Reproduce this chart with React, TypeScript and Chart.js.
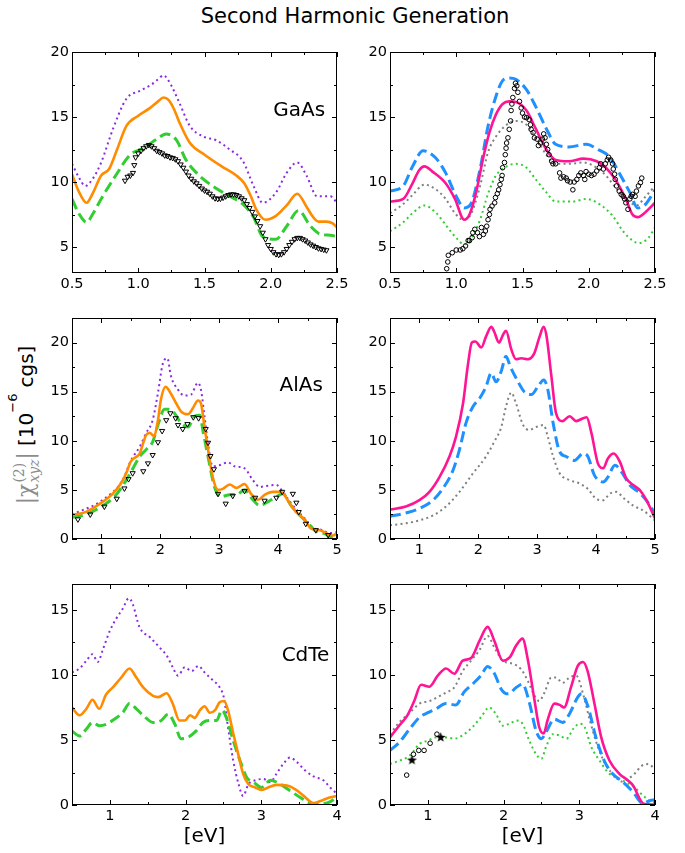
import React, { useEffect, useRef } from "react";
import { Chart, registerables } from "chart.js";
Chart.register(...registerables);

type Pt = [number, number];

// ---------- GaAs (top row) ----------
const gaasXMajor = [0.5, 1.0, 1.5, 2.0, 2.5];
const gaasXMinor = [0.75, 1.25, 1.75, 2.25];
const gaasYMajor = [5, 10, 15, 20];
const gaasYMinor = [7.5, 12.5, 17.5];

const gaasOrange: Pt[] = [[0.5,10.6],[0.55,9.3],[0.61,8.4],[0.66,9.2],[0.72,10.5],[0.78,11.0],[0.84,12.5],[0.91,14.3],[1.0,15.1],[1.09,15.7],[1.15,16.2],[1.19,16.5],[1.23,16.3],[1.27,15.6],[1.31,14.6],[1.39,13.0],[1.5,12.1],[1.63,11.2],[1.74,10.5],[1.8,9.9],[1.85,8.9],[1.89,7.9],[1.96,7.1],[2.04,7.4],[2.12,8.2],[2.2,9.1],[2.27,8.1],[2.32,7.3],[2.36,6.95],[2.42,6.95],[2.47,6.8],[2.5,6.5]];
const gaasPurple: Pt[] = [[0.5,11.4],[0.55,10.4],[0.6,9.7],[0.66,10.3],[0.72,11.5],[0.81,14.1],[0.91,16.4],[1.01,17.0],[1.1,17.5],[1.15,17.9],[1.19,18.2],[1.24,17.6],[1.31,16.1],[1.39,14.3],[1.49,13.5],[1.59,13.2],[1.69,12.5],[1.79,11.6],[1.87,9.7],[1.94,8.4],[2.04,9.2],[2.12,10.7],[2.2,11.5],[2.27,10.5],[2.35,8.9],[2.45,8.9],[2.5,8.4]];
const gaasGreen: Pt[] = [[0.5,8.7],[0.55,7.6],[0.61,6.9],[0.66,7.6],[0.72,8.7],[0.83,10.5],[0.94,12.1],[1.04,12.6],[1.14,13.3],[1.21,13.7],[1.29,13.2],[1.36,11.7],[1.46,10.5],[1.56,9.7],[1.69,8.9],[1.79,8.3],[1.87,7.3],[1.94,5.8],[2.04,5.6],[2.12,6.6],[2.21,7.8],[2.3,6.6],[2.37,6.0],[2.45,5.9],[2.5,5.8]];
const gaasExpTri: Pt[] = [[0.9,10.1],[0.92,10.4],[0.94,10.5],[0.96,10.7],[0.97,11.3],[0.98,11.9],[1.0,12.2],[1.02,12.4],[1.04,12.6],[1.06,12.75],[1.08,12.85],[1.1,12.75],[1.12,12.6],[1.14,12.4],[1.16,12.3],[1.18,12.2],[1.2,12.05],[1.22,12.0],[1.24,11.9],[1.26,11.85],[1.28,11.75],[1.3,11.6],[1.32,11.35],[1.34,11.1],[1.36,10.8],[1.38,10.5],[1.4,10.25],[1.42,10.05],[1.44,9.9],[1.46,9.7],[1.48,9.5],[1.5,9.35],[1.52,9.25],[1.54,9.1],[1.56,8.9],[1.58,8.75],[1.6,8.7],[1.62,8.72],[1.64,8.8],[1.66,8.9],[1.68,9.0],[1.7,9.05],[1.72,9.05],[1.74,9.0],[1.76,8.9],[1.78,8.75],[1.8,8.6],[1.82,8.3],[1.84,8.0],[1.86,7.7],[1.88,7.35],[1.9,7.0],[1.92,6.6],[1.94,6.1],[1.96,5.6],[1.98,5.15],[2.0,4.85],[2.02,4.6],[2.04,4.45],[2.06,4.4],[2.08,4.45],[2.1,4.6],[2.12,4.85],[2.14,5.15],[2.16,5.4],[2.18,5.6],[2.2,5.7],[2.22,5.7],[2.24,5.6],[2.26,5.5],[2.28,5.35],[2.3,5.2],[2.32,5.1],[2.34,5.0],[2.36,4.9],[2.38,4.85],[2.4,4.8],[2.42,4.75]];

const gaasPink: Pt[] = [[0.5,8.5],[0.6,8.7],[0.67,9.9],[0.72,10.9],[0.76,11.2],[0.82,10.8],[0.92,9.9],[0.99,8.7],[1.06,7.1],[1.1,7.5],[1.15,9.2],[1.2,11.7],[1.25,13.8],[1.3,15.2],[1.35,16.0],[1.4,16.2],[1.45,16.15],[1.53,15.5],[1.6,14.1],[1.68,12.5],[1.75,11.7],[1.85,11.6],[1.96,11.8],[2.06,11.6],[2.13,11.1],[2.2,10.2],[2.28,8.7],[2.33,7.5],[2.37,7.3],[2.43,7.7],[2.5,8.4]];
const gaasBlue: Pt[] = [[0.5,9.3],[0.6,9.7],[0.67,11.2],[0.75,12.4],[0.84,11.9],[0.92,10.7],[1.0,8.9],[1.06,8.0],[1.11,8.3],[1.18,11.0],[1.24,14.3],[1.3,16.6],[1.35,17.8],[1.4,18.0],[1.45,17.9],[1.53,17.1],[1.6,15.8],[1.68,14.1],[1.75,12.9],[1.85,12.7],[1.98,12.9],[2.07,12.5],[2.16,11.9],[2.23,10.7],[2.31,9.2],[2.37,8.0],[2.43,8.3],[2.5,9.4]];
const gaasGray: Pt[] = [[0.5,7.6],[0.6,8.3],[0.67,9.0],[0.76,9.8],[0.85,9.4],[0.92,8.7],[0.99,7.6],[1.05,7.1],[1.11,7.5],[1.18,9.7],[1.24,12.3],[1.3,13.5],[1.38,14.4],[1.45,14.7],[1.53,14.4],[1.6,13.4],[1.68,12.1],[1.75,11.4],[1.85,11.4],[1.96,11.5],[2.06,11.1],[2.13,10.5],[2.2,9.6],[2.28,8.7],[2.36,8.2],[2.43,8.9],[2.5,9.7]];
const gaasGreenDot: Pt[] = [[0.5,6.2],[0.6,6.9],[0.67,7.6],[0.76,8.2],[0.85,7.6],[0.92,6.7],[1.0,5.7],[1.06,5.2],[1.11,5.6],[1.18,7.1],[1.24,9.1],[1.3,10.5],[1.38,11.2],[1.45,11.4],[1.53,11.1],[1.6,10.2],[1.68,9.2],[1.75,8.5],[1.88,8.5],[1.98,8.7],[2.08,8.3],[2.18,7.4],[2.26,6.2],[2.33,5.5],[2.38,5.3],[2.45,5.7],[2.5,6.5]];
const gaasExpCirc: Pt[] = [[0.928,3.33],[0.936,3.85],[0.94,4.36],[0.97,4.56],[1.0,4.77],[1.03,4.77],[1.05,4.87],[1.07,5.08],[1.09,5.5],[1.1,5.49],[1.12,5.72],[1.125,6.1],[1.14,6.36],[1.16,6.1],[1.175,5.8],[1.19,6.5],[1.205,5.97],[1.22,6.23],[1.23,6.6],[1.24,7.1],[1.25,7.5],[1.255,7.9],[1.27,8.15],[1.29,8.4],[1.296,8.8],[1.31,9.1],[1.32,9.4],[1.33,9.8],[1.34,10.2],[1.346,10.5],[1.35,11.1],[1.364,11.5],[1.37,12.1],[1.376,12.6],[1.38,13.0],[1.39,13.4],[1.4,14.05],[1.41,14.7],[1.414,15.5],[1.42,16.0],[1.427,16.5],[1.44,17.2],[1.447,17.6],[1.457,17.4],[1.465,16.9],[1.477,16.2],[1.49,15.7],[1.5,15.3],[1.515,15.0],[1.53,14.95],[1.55,14.8],[1.56,14.4],[1.565,14.05],[1.58,13.8],[1.59,13.4],[1.61,13.3],[1.62,12.8],[1.636,13.0],[1.65,13.3],[1.66,13.7],[1.67,13.4],[1.68,12.9],[1.69,12.5],[1.7,12.1],[1.72,11.6],[1.73,11.4],[1.75,11.4],[1.78,10.7],[1.79,10.3],[1.81,10.4],[1.83,10.3],[1.84,10.1],[1.86,10.0],[1.88,9.4],[1.89,10.0],[1.91,10.2],[1.925,10.5],[1.94,10.7],[1.96,10.5],[1.97,10.2],[1.98,10.8],[2.0,10.6],[2.02,10.5],[2.04,10.6],[2.06,10.85],[2.08,11.1],[2.09,11.4],[2.11,11.0],[2.125,11.4],[2.14,11.7],[2.15,11.9],[2.165,11.7],[2.18,11.4],[2.185,11.0],[2.195,10.6],[2.2,10.2],[2.21,9.7],[2.23,9.3],[2.245,9.05],[2.26,8.9],[2.27,8.7],[2.28,8.4],[2.296,7.9],[2.31,8.7],[2.32,8.9],[2.33,9.05],[2.35,8.9],[2.36,9.3],[2.375,9.7],[2.39,9.95],[2.4,10.3]];

// ---------- AlAs (middle row) ----------
const alasXMajor = [1, 2, 3, 4, 5];
const alasXMinor = [0.5, 1.5, 2.5, 3.5, 4.5];
const alasYMajor = [0, 5, 10, 15, 20];
const alasYMinor = [2.5, 7.5, 12.5, 17.5, 22.5];

const alasOrange: Pt[] = [[0.5,2.45],[0.74,2.76],[1.0,3.7],[1.19,4.6],[1.33,5.65],[1.42,6.7],[1.5,7.9],[1.6,8.4],[1.65,8.7],[1.71,9.8],[1.76,10.6],[1.82,10.8],[1.89,10.5],[1.96,12.1],[2.01,14.2],[2.09,15.5],[2.16,15.0],[2.27,13.8],[2.35,13.0],[2.47,12.7],[2.55,13.3],[2.64,14.1],[2.69,13.8],[2.75,11.4],[2.81,9.1],[2.89,6.3],[2.98,5.0],[3.06,5.1],[3.18,5.55],[3.29,5.2],[3.43,5.6],[3.54,4.6],[3.66,4.0],[3.77,4.5],[3.91,4.8],[4.03,4.8],[4.09,4.6],[4.2,3.6],[4.31,2.7],[4.45,2.0],[4.56,1.05],[4.71,0.9],[4.85,0.5],[4.93,0.35],[5.0,0.6]];
const alasPurple: Pt[] = [[0.5,2.5],[1.0,3.9],[1.36,6.0],[1.5,8.0],[1.65,9.4],[1.76,10.8],[1.87,12.1],[1.96,14.9],[2.04,17.8],[2.12,18.4],[2.18,16.6],[2.3,15.2],[2.41,14.6],[2.52,14.7],[2.64,15.9],[2.69,15.2],[2.75,12.5],[2.81,9.7],[2.89,7.4],[3.0,7.5],[3.15,7.8],[3.26,7.4],[3.43,7.2],[3.57,6.0],[3.69,5.3],[3.8,5.4],[3.97,5.5],[4.08,4.8],[4.2,3.8],[4.34,2.8],[4.48,1.9],[4.59,1.15],[4.73,0.95],[4.88,0.6],[5.0,0.7]];
const alasGreen: Pt[] = [[0.5,2.2],[0.74,2.5],[1.0,3.3],[1.22,4.3],[1.36,5.4],[1.5,6.8],[1.65,8.4],[1.76,9.1],[1.87,9.9],[1.97,11.8],[2.07,13.2],[2.14,13.2],[2.24,12.8],[2.35,11.8],[2.47,11.4],[2.58,12.5],[2.67,12.6],[2.73,10.8],[2.81,8.4],[2.92,5.3],[3.03,4.3],[3.18,4.5],[3.29,4.5],[3.43,5.0],[3.57,4.0],[3.69,3.4],[3.83,3.8],[3.97,4.3],[4.08,4.6],[4.22,3.4],[4.37,2.4],[4.51,1.6],[4.62,0.9],[4.79,0.55],[4.93,0.2],[5.0,0.4]];
const alasExpTri: Pt[] = [[0.6,2.0],[0.81,2.5],[1.05,3.3],[1.26,4.1],[1.39,5.15],[1.46,6.1],[1.53,6.7],[1.71,6.9],[1.79,7.7],[1.87,8.55],[1.96,9.85],[2.03,11.0],[2.1,12.1],[2.17,12.8],[2.26,12.3],[2.3,11.6],[2.38,11.2],[2.46,11.7],[2.56,12.4],[2.65,12.3],[2.77,11.2],[2.81,9.8],[2.85,8.45],[2.91,7.1],[2.98,4.6],[3.11,3.6],[3.23,4.4],[3.43,4.9],[3.61,4.2],[3.77,3.9],[3.97,4.2],[4.07,4.8],[4.25,4.6],[4.31,3.7],[4.35,2.75],[4.47,1.55],[4.64,0.9],[4.85,0.4]];

const alasPink: Pt[] = [[0.5,3.0],[0.77,3.3],[1.0,3.95],[1.17,4.8],[1.34,6.3],[1.51,8.4],[1.62,10.4],[1.74,13.8],[1.82,17.6],[1.89,20.0],[1.95,20.1],[2.05,19.5],[2.13,20.6],[2.22,21.6],[2.27,21.1],[2.35,20.0],[2.42,20.8],[2.47,21.2],[2.56,19.3],[2.64,18.3],[2.73,18.4],[2.84,18.3],[2.95,18.9],[3.04,20.6],[3.11,21.6],[3.16,20.6],[3.24,16.6],[3.32,12.8],[3.43,12.0],[3.55,12.5],[3.66,12.0],[3.78,12.3],[3.84,12.4],[3.92,10.8],[4.03,7.7],[4.12,7.2],[4.2,8.2],[4.3,8.7],[4.4,7.9],[4.51,6.2],[4.63,5.5],[4.74,5.0],[4.85,4.0],[5.0,2.1]];
const alasBlue: Pt[] = [[0.5,2.3],[0.77,2.65],[1.0,3.1],[1.23,3.95],[1.4,5.15],[1.57,7.0],[1.68,9.1],[1.79,11.8],[1.91,13.5],[2.02,14.3],[2.13,15.5],[2.22,16.9],[2.3,16.0],[2.39,17.1],[2.47,18.6],[2.54,17.6],[2.64,16.4],[2.78,15.0],[2.9,14.7],[3.01,15.5],[3.11,16.2],[3.18,15.2],[3.27,11.8],[3.38,8.9],[3.49,8.4],[3.63,8.0],[3.78,8.7],[3.86,8.4],[3.97,6.5],[4.12,5.8],[4.2,6.3],[4.32,7.5],[4.43,6.85],[4.57,5.5],[4.74,4.7],[4.85,3.95],[5.0,2.6]];
const alasGray: Pt[] = [[0.5,1.4],[0.77,1.6],[1.0,1.9],[1.23,2.4],[1.45,3.3],[1.68,4.8],[1.91,6.7],[2.13,8.4],[2.27,9.9],[2.39,11.4],[2.47,13.5],[2.56,14.9],[2.64,13.8],[2.76,11.6],[2.87,11.1],[2.98,11.4],[3.11,11.6],[3.18,10.4],[3.27,8.4],[3.38,6.7],[3.55,6.0],[3.72,5.65],[3.86,5.1],[4.0,4.1],[4.12,3.95],[4.23,4.6],[4.34,4.8],[4.48,4.1],[4.63,3.4],[4.8,2.9],[5.0,1.9]];

// ---------- CdTe (bottom row) ----------
const cdteXMajor = [1, 2, 3, 4];
const cdteXMinor = [0.5, 1.5, 2.5, 3.5];
const cdteYMajor = [0, 5, 10, 15];
const cdteYMinor = [2.5, 7.5, 12.5];

const cdteOrange: Pt[] = [[0.5,7.5],[0.6,6.9],[0.69,7.4],[0.77,8.1],[0.86,7.4],[0.95,8.5],[1.04,9.05],[1.15,9.8],[1.26,10.5],[1.35,9.8],[1.44,9.05],[1.57,8.4],[1.64,8.3],[1.75,8.6],[1.83,7.8],[1.92,6.5],[1.99,6.5],[2.06,6.9],[2.12,6.7],[2.19,7.3],[2.25,7.6],[2.32,7.1],[2.39,7.3],[2.45,7.9],[2.51,8.0],[2.56,7.3],[2.63,5.5],[2.7,3.8],[2.76,2.4],[2.83,1.6],[2.92,1.35],[3.0,1.15],[3.09,1.35],[3.2,1.55],[3.34,1.5],[3.45,1.2],[3.56,0.7],[3.69,0.15],[3.78,0.3],[3.89,0.55],[4.0,0.7]];
const cdtePurple: Pt[] = [[0.5,10.2],[0.6,10.5],[0.69,11.1],[0.77,11.6],[0.84,11.0],[0.91,12.0],[1.0,13.4],[1.08,14.3],[1.17,15.1],[1.25,15.9],[1.3,15.5],[1.39,13.7],[1.53,12.9],[1.66,12.1],[1.75,11.5],[1.83,10.6],[1.9,9.95],[1.99,10.6],[2.08,10.3],[2.17,10.7],[2.25,10.2],[2.36,9.6],[2.45,9.05],[2.51,8.15],[2.56,6.0],[2.63,3.4],[2.7,1.6],[2.76,0.7],[2.83,1.6],[2.92,1.9],[3.03,2.0],[3.12,1.75],[3.2,2.4],[3.29,3.15],[3.38,3.65],[3.47,3.3],[3.58,2.65],[3.69,2.2],[3.82,1.9],[3.91,1.35],[4.0,0.85]];
const cdteGreen: Pt[] = [[0.5,5.7],[0.6,5.3],[0.69,5.85],[0.77,6.35],[0.86,6.1],[0.95,6.2],[1.06,6.6],[1.17,7.1],[1.26,7.8],[1.35,7.4],[1.44,6.9],[1.57,6.35],[1.68,6.5],[1.77,7.0],[1.86,6.2],[1.94,5.1],[2.03,5.2],[2.14,5.7],[2.23,6.35],[2.32,6.5],[2.41,6.5],[2.48,7.3],[2.54,6.7],[2.63,4.95],[2.72,3.4],[2.81,2.1],[2.9,1.75],[3.0,1.35],[3.12,1.9],[3.25,1.6],[3.38,1.1],[3.51,0.6],[3.65,0.13],[3.78,0.08],[3.89,0.2],[4.0,0.6]];

const cdtePink: Pt[] = [[0.5,5.2],[0.62,6.1],[0.73,6.9],[0.82,8.0],[0.91,9.25],[1.02,9.1],[1.13,9.95],[1.24,10.5],[1.35,10.1],[1.46,11.1],[1.57,11.3],[1.68,12.6],[1.79,13.7],[1.88,12.6],[1.99,11.1],[2.08,11.35],[2.17,12.3],[2.25,12.8],[2.32,11.2],[2.41,8.0],[2.47,6.0],[2.53,5.5],[2.58,6.5],[2.67,7.8],[2.74,7.7],[2.8,7.5],[2.89,9.05],[2.98,10.7],[3.05,11.0],[3.11,10.3],[3.2,7.8],[3.29,5.2],[3.4,3.4],[3.53,2.4],[3.64,1.9],[3.71,1.5],[3.84,0.13],[3.91,0.05],[4.0,0.03]];
const cdteBlue: Pt[] = [[0.5,4.2],[0.62,4.8],[0.76,5.85],[0.89,6.75],[1.0,7.1],[1.11,7.4],[1.24,7.8],[1.37,7.7],[1.48,8.7],[1.59,9.3],[1.7,9.95],[1.79,10.65],[1.88,10.1],[1.97,8.9],[2.06,8.55],[2.17,9.05],[2.25,9.3],[2.34,7.9],[2.43,5.7],[2.5,5.1],[2.56,5.6],[2.67,6.6],[2.78,6.35],[2.87,7.0],[2.98,8.3],[3.03,8.55],[3.11,7.65],[3.22,5.2],[3.33,3.4],[3.44,2.4],[3.58,1.75],[3.71,1.0],[3.84,0.13],[3.93,0.33],[4.0,0.4]];
const cdteGray: Pt[] = [[0.5,5.45],[0.62,6.35],[0.76,7.1],[0.89,7.8],[1.02,8.0],[1.13,8.3],[1.24,8.65],[1.35,9.05],[1.46,10.3],[1.57,11.1],[1.68,11.9],[1.79,13.0],[1.88,12.1],[1.99,11.1],[2.13,10.85],[2.23,10.45],[2.32,9.55],[2.41,8.4],[2.47,8.0],[2.54,8.65],[2.63,9.8],[2.69,9.8],[2.78,9.4],[2.87,9.8],[2.96,9.95],[3.05,8.55],[3.14,6.5],[3.25,4.4],[3.36,3.0],[3.47,2.25],[3.55,1.8],[3.64,2.0],[3.73,2.4],[3.82,3.0],[3.91,3.15],[4.0,2.75]];
const cdteGreenDot: Pt[] = [[0.5,3.15],[0.62,3.4],[0.76,3.8],[0.89,4.7],[1.0,4.95],[1.11,5.2],[1.24,5.2],[1.35,5.1],[1.48,5.45],[1.59,6.0],[1.7,6.75],[1.81,7.5],[1.9,7.0],[1.99,6.1],[2.08,6.25],[2.17,6.5],[2.25,6.25],[2.34,4.95],[2.43,3.9],[2.5,3.55],[2.56,4.45],[2.65,5.45],[2.74,5.35],[2.83,5.1],[2.92,5.85],[3.0,6.25],[3.07,6.0],[3.16,4.45],[3.27,3.4],[3.38,2.5],[3.49,2.1],[3.62,1.75],[3.73,1.35],[3.82,0.85],[3.93,0.33],[4.0,0.2]];
const cdteExpCirc: Pt[] = [[0.72,2.3],[0.81,3.9],[0.88,4.2],[0.95,4.2],[1.03,4.75],[1.12,5.45]];
const cdteExpStar: Pt[] = [[0.79,3.45],[1.17,5.2]];

// ---------- helpers ----------
const ORANGE = "#FF8C00";
const PURPLE = "#8A2BE2";
const LIME = "#32CD32";
const PINK = "#FF1493";
const BLUE = "#1E90FF";
const GRAY = "#808080";

const toXY = (d: Pt[]) => d.map(([x, y]) => ({ x, y }));

function lineDs(d: Pt[], color: string, kind: "solid" | "dashed" | "dotted") {
  return {
    data: toXY(d),
    borderColor: color,
    backgroundColor: color,
    borderWidth: kind === "solid" ? 2.6 : kind === "dashed" ? 3 : 2,
    borderDash: kind === "solid" ? [] : kind === "dashed" ? [11, 5] : [2, 3.3],
    pointRadius: 0,
    showLine: true,
    cubicInterpolationMode: "monotone",
    fill: false,
    clip: 0,
  };
}

function markDs(d: Pt[], style: any, radius: number, rotation = 0) {
  return {
    data: toXY(d),
    showLine: false,
    pointStyle: style,
    pointRadius: radius,
    pointRotation: rotation,
    pointBorderColor: "#000",
    pointBackgroundColor: "rgba(255,255,255,0)",
    pointBorderWidth: 1,
    borderColor: "#000",
    clip: 5,
  };
}

function makeStar(): HTMLCanvasElement {
  const c = document.createElement("canvas");
  c.width = 11;
  c.height = 11;
  const g = c.getContext("2d")!;
  g.fillStyle = "#000";
  g.beginPath();
  for (let i = 0; i < 10; i++) {
    const r = i % 2 === 0 ? 5.2 : 2.2;
    const a = -Math.PI / 2 + (i * Math.PI) / 5;
    const px = 5.5 + r * Math.cos(a);
    const py = 5.5 + r * Math.sin(a);
    if (i === 0) g.moveTo(px, py);
    else g.lineTo(px, py);
  }
  g.closePath();
  g.fill();
  return c;
}

type PanelCfg = {
  left: number;
  top: number;
  width: number;
  height: number;
  xMin: number;
  xMax: number;
  yMin: number;
  yMax: number;
  xMajor: number[];
  xMinor: number[];
  yMajor: number[];
  yMinor: number[];
  xDec: number;
  datasets: () => any[];
  label?: { text: string; x: number; y: number };
  xTitle?: string;
};

const PAD_L = 62;
const PAD_T = 14;
const PAD_R = 22;

const isIn = (arr: number[], v: number) => arr.some((m) => Math.abs(m - v) < 1e-9);

function Panel({ cfg }: { cfg: PanelCfg }) {
  const ref = useRef<HTMLCanvasElement | null>(null);
  const bottomSpace = cfg.xTitle ? 52 : 30;
  const cw = cfg.width + PAD_L + PAD_R;
  const ch = cfg.height + PAD_T + bottomSpace;

  useEffect(() => {
    if (!ref.current) return;
    const allX = [...cfg.xMajor, ...cfg.xMinor].sort((a, b) => a - b);
    const allY = [...cfg.yMajor, ...cfg.yMinor].sort((a, b) => a - b);

    const framePlugin = {
      id: "frameTicks",
      afterDraw(chart: any) {
        const { ctx, chartArea: a, scales } = chart;
        const xs = scales.x;
        const ys = scales.y;
        ctx.save();
        ctx.strokeStyle = "#000";
        ctx.lineWidth = 1;
        ctx.beginPath();
        for (const v of allX) {
          if (v < cfg.xMin - 1e-9 || v > cfg.xMax + 1e-9) continue;
          const px = Math.round(xs.getPixelForValue(v)) + 0.5;
          const len = isIn(cfg.xMajor, v) ? 5 : 3;
          ctx.moveTo(px, a.bottom);
          ctx.lineTo(px, a.bottom - len);
          ctx.moveTo(px, a.top);
          ctx.lineTo(px, a.top + len);
        }
        for (const v of allY) {
          if (v < cfg.yMin - 1e-9 || v > cfg.yMax + 1e-9) continue;
          const py = Math.round(ys.getPixelForValue(v)) + 0.5;
          const len = isIn(cfg.yMajor, v) ? 5 : 3;
          ctx.moveTo(a.left, py);
          ctx.lineTo(a.left + len, py);
          ctx.moveTo(a.right, py);
          ctx.lineTo(a.right - len, py);
        }
        ctx.stroke();
        ctx.strokeRect(a.left + 0.5, a.top + 0.5, a.right - a.left - 1, a.bottom - a.top - 1);
        ctx.fillStyle = "#000";
        if (cfg.label) {
          ctx.font = '20px "DejaVu Sans"';
          ctx.textAlign = "right";
          ctx.textBaseline = "middle";
          ctx.fillText(cfg.label.text, xs.getPixelForValue(cfg.label.x), ys.getPixelForValue(cfg.label.y));
        }
        if (cfg.xTitle) {
          ctx.font = '20px "DejaVu Sans"';
          ctx.textAlign = "center";
          ctx.textBaseline = "middle";
          ctx.fillText(cfg.xTitle, (a.left + a.right) / 2, a.bottom + 32);
        }
        ctx.restore();
      },
    };

    const chart = new Chart(ref.current, {
      type: "line",
      data: { datasets: cfg.datasets() },
      options: {
        animation: false,
        responsive: false,
        events: [],
        layout: { autoPadding: false, padding: { top: PAD_T, right: PAD_R, left: 0, bottom: 0 } },
        plugins: { legend: { display: false }, tooltip: { enabled: false }, title: { display: false } },
        scales: {
          x: {
            type: "linear",
            min: cfg.xMin,
            max: cfg.xMax,
            afterBuildTicks: (s: any) => {
              s.ticks = allX.map((v) => ({ value: v }));
            },
            afterFit: (s: any) => {
              s.height = bottomSpace;
              s.paddingLeft = 0;
              s.paddingRight = 0;
            },
            ticks: {
              autoSkip: false,
              maxRotation: 0,
              padding: 3,
              color: "#000",
              font: { family: "DejaVu Sans", size: 14.5 },
              callback: (v: any) => (isIn(cfg.xMajor, Number(v)) ? Number(v).toFixed(cfg.xDec) : ""),
            },
            grid: { display: false, drawTicks: false },
            border: { display: false },
          },
          y: {
            type: "linear",
            min: cfg.yMin,
            max: cfg.yMax,
            afterBuildTicks: (s: any) => {
              s.ticks = allY.map((v) => ({ value: v }));
            },
            afterFit: (s: any) => {
              s.width = PAD_L;
              s.paddingTop = 0;
              s.paddingBottom = 0;
            },
            ticks: {
              autoSkip: false,
              padding: 3,
              color: "#000",
              font: { family: "DejaVu Sans", size: 14.5 },
              callback: (v: any) => (isIn(cfg.yMajor, Number(v)) ? String(Number(v)) : ""),
            },
            grid: { display: false, drawTicks: false },
            border: { display: false },
          },
        },
      } as any,
      plugins: [framePlugin],
    });
    return () => chart.destroy();
  }, []);

  return (
    <canvas
      ref={ref}
      width={cw}
      height={ch}
      style={{
        position: "absolute",
        left: cfg.left - PAD_L,
        top: cfg.top - PAD_T,
        width: cw,
        height: ch,
      }}
    />
  );
}

const COL_L = 72;
const COL_R = 390;
const PW = 265;
const PH = 221;
const ROW = [52, 318, 584];

export default function App() {
  const star = typeof document !== "undefined" ? makeStar() : null;
  const panels: PanelCfg[] = [
    {
      left: COL_L, top: ROW[0], width: PW, height: PH,
      xMin: 0.5, xMax: 2.5, yMin: 3, yMax: 20,
      xMajor: gaasXMajor, xMinor: gaasXMinor, yMajor: gaasYMajor, yMinor: gaasYMinor, xDec: 1,
      label: { text: "GaAs", x: 2.41, y: 15.45 },
      datasets: () => [
        markDs(gaasExpTri, "triangle", 3, 180),
        lineDs(gaasOrange, ORANGE, "solid"),
        lineDs(gaasGreen, LIME, "dashed"),
        lineDs(gaasPurple, PURPLE, "dotted"),
      ],
    },
    {
      left: COL_R, top: ROW[0], width: PW, height: PH,
      xMin: 0.5, xMax: 2.5, yMin: 3, yMax: 20,
      xMajor: gaasXMajor, xMinor: gaasXMinor, yMajor: gaasYMajor, yMinor: gaasYMinor, xDec: 1,
      datasets: () => [
        markDs(gaasExpCirc, "circle", 2.3),
        lineDs(gaasPink, PINK, "solid"),
        lineDs(gaasBlue, BLUE, "dashed"),
        lineDs(gaasGray, GRAY, "dotted"),
        lineDs(gaasGreenDot, LIME, "dotted"),
      ],
    },
    {
      left: COL_L, top: ROW[1], width: PW, height: PH,
      xMin: 0.5, xMax: 5, yMin: 0, yMax: 22.5,
      xMajor: alasXMajor, xMinor: alasXMinor, yMajor: alasYMajor, yMinor: alasYMinor, xDec: 0,
      label: { text: "AlAs", x: 4.76, y: 15.6 },
      datasets: () => [
        markDs(alasExpTri, "triangle", 3, 180),
        lineDs(alasOrange, ORANGE, "solid"),
        lineDs(alasGreen, LIME, "dashed"),
        lineDs(alasPurple, PURPLE, "dotted"),
      ],
    },
    {
      left: COL_R, top: ROW[1], width: PW, height: PH,
      xMin: 0.5, xMax: 5, yMin: 0, yMax: 22.5,
      xMajor: alasXMajor, xMinor: alasXMinor, yMajor: alasYMajor, yMinor: alasYMinor, xDec: 0,
      datasets: () => [
        lineDs(alasPink, PINK, "solid"),
        lineDs(alasBlue, BLUE, "dashed"),
        lineDs(alasGray, GRAY, "dotted"),
      ],
    },
    {
      left: COL_L, top: ROW[2], width: PW, height: PH,
      xMin: 0.5, xMax: 4, yMin: 0, yMax: 17,
      xMajor: cdteXMajor, xMinor: cdteXMinor, yMajor: cdteYMajor, yMinor: cdteYMinor, xDec: 0,
      label: { text: "CdTe", x: 3.9, y: 11.5 },
      xTitle: "[eV]",
      datasets: () => [
        lineDs(cdteOrange, ORANGE, "solid"),
        lineDs(cdteGreen, LIME, "dashed"),
        lineDs(cdtePurple, PURPLE, "dotted"),
      ],
    },
    {
      left: COL_R, top: ROW[2], width: PW, height: PH,
      xMin: 0.5, xMax: 4, yMin: 0, yMax: 17,
      xMajor: cdteXMajor, xMinor: cdteXMinor, yMajor: cdteYMajor, yMinor: cdteYMinor, xDec: 0,
      xTitle: "[eV]",
      datasets: () => [
        markDs(cdteExpStar, star, 5),
        markDs(cdteExpCirc, "circle", 2.3),
        lineDs(cdtePink, PINK, "solid"),
        lineDs(cdteBlue, BLUE, "dashed"),
        lineDs(cdteGray, GRAY, "dotted"),
        lineDs(cdteGreenDot, LIME, "dotted"),
      ],
    },
  ];

  return (
    <div style={{ position: "absolute", left: 0, top: 0, width: 685, height: 853, background: "#fff", overflow: "hidden" }}>
      <div
        style={{
          position: "absolute",
          left: 355,
          top: 16,
          transform: "translate(-50%, -50%)",
          whiteSpace: "nowrap",
          fontFamily: '"DejaVu Sans"',
          fontSize: 21,
          color: "#000",
          lineHeight: 1,
        }}
      >
        Second Harmonic Generation
      </div>
      <div
        style={{
          position: "absolute",
          left: 26,
          top: 425,
          transform: "translate(-50%, -50%) rotate(-90deg)",
          whiteSpace: "nowrap",
          fontFamily: '"DejaVu Sans"',
          fontSize: 20,
          color: "#000",
          lineHeight: 1,
          display: "flex",
          alignItems: "center",
        }}
      >
        <span
          style={{
            color: "#8c8c8c",
            fontFamily: '"DejaVu Serif"',
            display: "inline-flex",
            alignItems: "center",
            fontSize: 22,
          }}
        >
          <span>|χ</span>
          <span
            style={{
              display: "inline-flex",
              flexDirection: "column",
              fontSize: 14,
              lineHeight: "15px",
              fontStyle: "italic",
              marginTop: 2,
              marginLeft: 1,
            }}
          >
            <span style={{ fontStyle: "normal" }}>(2)</span>
            <span>xyz</span>
          </span>
          <span>|</span>
        </span>
        <span style={{ marginLeft: 6 }}>[10</span>
        <span style={{ fontSize: 13, alignSelf: "flex-start", marginTop: -4 }}>−6</span>
        <span style={{ marginLeft: 6 }}>cgs]</span>
      </div>
      {panels.map((p, i) => (
        <Panel key={i} cfg={p} />
      ))}
    </div>
  );
}
